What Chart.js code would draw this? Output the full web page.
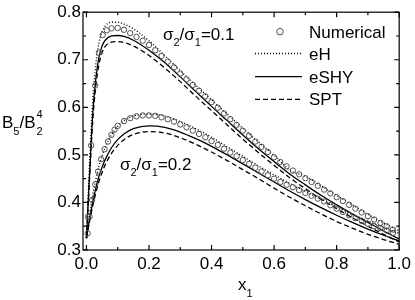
<!DOCTYPE html>
<html>
<head>
<meta charset="utf-8">
<script src="https://cdn.jsdelivr.net/npm/chart.js@4.4.1/dist/chart.umd.min.js"></script>
<style>
  html, body { margin: 0; padding: 0; background: #fff; }
</style>
</head>
<body>
<canvas id="chart" width="415" height="300"></canvas>
<script>
// tick values
const xMajor = [0.0, 0.2, 0.4, 0.6, 0.8, 1.0];
const xMinor = [0.1, 0.3, 0.5, 0.7, 0.9];
const yMajor = [0.3, 0.4, 0.5, 0.6, 0.7, 0.8];
const yMinor = [0.35, 0.45, 0.55, 0.65, 0.75];

// numerical (simulation) points, sigma2/sigma1 = 0.1
const num1X = [0.005, 0.015, 0.028, 0.04, 0.052, 0.065, 0.08, 0.1, 0.12, 0.14, 0.16, 0.18, 0.2,
  0.22, 0.24, 0.26, 0.28, 0.3, 0.32, 0.34, 0.36, 0.38, 0.4, 0.42, 0.44, 0.46, 0.48, 0.5,
  0.52, 0.54, 0.56, 0.58, 0.6, 0.62, 0.64, 0.66, 0.68, 0.7, 0.72, 0.74, 0.76, 0.78, 0.8,
  0.82, 0.84, 0.86, 0.88, 0.9, 0.92, 0.94, 0.96, 0.98];
const num1Y = [0.37, 0.52, 0.646, 0.715, 0.752, 0.762, 0.766, 0.767, 0.763, 0.756, 0.748, 0.740, 0.731,
  0.720, 0.708, 0.696, 0.684, 0.671, 0.659, 0.647, 0.635, 0.623, 0.611, 0.599, 0.587, 0.575, 0.563, 0.551,
  0.540, 0.528, 0.517, 0.506, 0.495, 0.485, 0.476, 0.467, 0.459, 0.451, 0.443, 0.435, 0.427, 0.419, 0.411,
  0.403, 0.395, 0.387, 0.379, 0.371, 0.364, 0.357, 0.350, 0.343];

// numerical points, sigma2/sigma1 = 0.2
const num2X = [0.004, 0.01, 0.018, 0.028, 0.037, 0.047, 0.058, 0.069, 0.08, 0.09, 0.1, 0.12, 0.14,
  0.16, 0.18, 0.2, 0.22, 0.24, 0.26, 0.28, 0.3, 0.32, 0.34, 0.36, 0.38, 0.4, 0.42, 0.44, 0.46,
  0.48, 0.5, 0.52, 0.54, 0.56, 0.58, 0.6, 0.62, 0.64, 0.66, 0.68, 0.7, 0.72, 0.74, 0.76, 0.78,
  0.8, 0.82, 0.84, 0.86, 0.88, 0.9, 0.92, 0.94, 0.96, 0.98];
const num2Y = [0.335, 0.37, 0.405, 0.438, 0.465, 0.491, 0.512, 0.528, 0.542, 0.553, 0.561, 0.571, 0.577,
  0.581, 0.583, 0.583, 0.582, 0.579, 0.575, 0.570, 0.564, 0.558, 0.551, 0.544, 0.537, 0.529, 0.521, 0.513, 0.505,
  0.497, 0.489, 0.481, 0.473, 0.465, 0.457, 0.450, 0.443, 0.437, 0.432, 0.426, 0.420, 0.414, 0.408, 0.402, 0.394,
  0.387, 0.380, 0.373, 0.367, 0.361, 0.355, 0.350, 0.346, 0.341, 0.336];

// theory curves share one x grid
const lineX = [0, 0.01, 0.02, 0.03, 0.04, 0.05, 0.06, 0.08, 0.1, 0.12, 0.15, 0.2, 0.25, 0.3,
  0.35, 0.4, 0.45, 0.5, 0.55, 0.6, 0.65, 0.7, 0.75, 0.8, 0.85, 0.9, 0.95, 1.0];

const eH1 = [0.325, 0.48, 0.61, 0.69, 0.735, 0.759, 0.771, 0.779, 0.779, 0.775, 0.765, 0.740, 0.709, 0.677,
  0.646, 0.616, 0.586, 0.556, 0.527, 0.499, 0.468, 0.455, 0.435, 0.415, 0.395, 0.375, 0.357, 0.340];
const eSHY1 = [0.325, 0.46, 0.585, 0.66, 0.705, 0.729, 0.741, 0.750, 0.751, 0.749, 0.741, 0.720, 0.694, 0.664,
  0.633, 0.602, 0.572, 0.542, 0.513, 0.486, 0.460, 0.437, 0.415, 0.395, 0.376, 0.358, 0.340, 0.323];
const spt1 = [0.325, 0.45, 0.57, 0.645, 0.69, 0.715, 0.728, 0.737, 0.738, 0.736, 0.729, 0.709, 0.683, 0.654,
  0.623, 0.593, 0.563, 0.533, 0.505, 0.478, 0.452, 0.429, 0.407, 0.387, 0.368, 0.350, 0.333, 0.317];

const eH2 = [0.325, 0.375, 0.415, 0.448, 0.476, 0.498, 0.516, 0.542, 0.560, 0.572, 0.582, 0.586, 0.582, 0.570,
  0.555, 0.537, 0.517, 0.497, 0.477, 0.458, 0.440, 0.423, 0.407, 0.391, 0.375, 0.361, 0.347, 0.335];
const eSHY2 = [0.325, 0.365, 0.40, 0.43, 0.455, 0.474, 0.49, 0.515, 0.532, 0.544, 0.555, 0.561, 0.558, 0.548,
  0.534, 0.518, 0.500, 0.481, 0.462, 0.443, 0.424, 0.406, 0.389, 0.373, 0.358, 0.344, 0.331, 0.319];
const spt2 = [0.325, 0.36, 0.392, 0.42, 0.444, 0.463, 0.479, 0.503, 0.52, 0.532, 0.543, 0.549, 0.546, 0.536,
  0.522, 0.506, 0.488, 0.469, 0.450, 0.430, 0.411, 0.393, 0.376, 0.360, 0.346, 0.333, 0.322, 0.312];

const legendNames = ['Numerical', 'eH', 'eSHY', 'SPT'];

const FONT = "'Liberation Sans', Arial, Helvetica, sans-serif";
Chart.defaults.font.family = FONT;
Chart.defaults.font.size = 17;
Chart.defaults.color = '#000';

const pts = (xs, ys) => xs.map((x, i) => ({x: x, y: ys[i]}));

const styles = {
  num: {showLine: false, pointStyle: 'circle', pointRadius: 2.7, pointBorderWidth: 1,
        pointBorderColor: '#505050', pointBackgroundColor: 'rgba(0,0,0,0)'},
  eH: {showLine: true, borderColor: '#000', borderWidth: 1.4, borderDash: [1, 2], pointRadius: 0, cubicInterpolationMode: 'monotone'},
  eSHY: {showLine: true, borderColor: '#000', borderWidth: 1.3, borderDash: [], pointRadius: 0, cubicInterpolationMode: 'monotone'},
  spt: {showLine: true, borderColor: '#000', borderWidth: 1.3, borderDash: [5, 3], pointRadius: 0, cubicInterpolationMode: 'monotone'}
};

function textRuns(ctx, x, y, runs) {
  // runs: [text, size, dy, advance?]
  runs.forEach(r => {
    ctx.font = r[1] + 'px ' + FONT;
    ctx.fillText(r[0], x, y + r[2]);
    if (r[3] !== false) x += ctx.measureText(r[0]).width;
  });
  return x;
}

const decor = {
  id: 'decor',
  afterDatasetsDraw(chart) {
    const {ctx, chartArea: a, scales: {x, y}} = chart;
    ctx.save();
    ctx.strokeStyle = '#000';
    ctx.lineWidth = 1.2;
    ctx.strokeRect(a.left, a.top, a.right - a.left, a.bottom - a.top);

    // inward ticks on all four sides
    ctx.beginPath();
    const xt = (v, len) => {
      const px = x.getPixelForValue(v);
      ctx.moveTo(px, a.bottom); ctx.lineTo(px, a.bottom - len);
      ctx.moveTo(px, a.top); ctx.lineTo(px, a.top + len);
    };
    const yt = (v, len) => {
      const py = y.getPixelForValue(v);
      ctx.moveTo(a.left, py); ctx.lineTo(a.left + len, py);
      ctx.moveTo(a.right, py); ctx.lineTo(a.right - len, py);
    };
    xMajor.forEach(v => xt(v, 5));
    xMinor.forEach(v => xt(v, 3));
    yMajor.forEach(v => yt(v, 5));
    yMinor.forEach(v => yt(v, 3));
    ctx.stroke();

    // legend
    const ds = chart.data.datasets;
    const rows = [31.7, 53.5, 76.7, 99.3];
    const lx0 = 255, lx1 = 302, tx = 309;
    ctx.fillStyle = '#000';
    ctx.textBaseline = 'alphabetic';
    ctx.textAlign = 'left';
    rows.forEach((ry, i) => {
      const d = ds[i * 2];
      if (i === 0) {
        ctx.beginPath();
        ctx.lineWidth = d.pointBorderWidth;
        ctx.strokeStyle = d.pointBorderColor;
        ctx.setLineDash([]);
        ctx.arc(280, ry, 3.3, 0, Math.PI * 2);
        ctx.stroke();
      } else {
        ctx.beginPath();
        ctx.lineWidth = d.borderWidth;
        ctx.strokeStyle = d.borderColor;
        ctx.setLineDash(d.borderDash);
        ctx.moveTo(lx0, ry);
        ctx.lineTo(lx1, ry);
        ctx.stroke();
      }
      ctx.setLineDash([]);
      ctx.font = '17px ' + FONT;
      ctx.fillText(legendNames[i], tx, ry + 6);
    });

    // annotations
    const ratio = (x0, base, val) => textRuns(ctx, x0, base, [
      ['\u03c3', 17, 0], ['2', 11, 6], ['/', 17, 0], ['\u03c3', 17, 0], ['1', 11, 6], ['=' + val, 17, 0]
    ]);
    ratio(163, 40, '0.1');
    ratio(120, 170, '0.2');

    // axis titles
    let bx = textRuns(ctx, 2, 128, [['B', 17, 0], ['5', 11, 7], ['/', 17, 0], ['B', 17, 0]]);
    textRuns(ctx, bx + 1, 128, [['4', 11, -10, false], ['2', 11, 7]]);
    textRuns(ctx, 238, 290, [['x', 17, 0], ['1', 11, 7]]);
    ctx.restore();
  }
};

new Chart(document.getElementById('chart'), {
  type: 'scatter',
  data: {
    datasets: [
      Object.assign({label: 'Numerical', data: pts(num1X, num1Y)}, styles.num),
      Object.assign({label: 'Numerical', data: pts(num2X, num2Y)}, styles.num),
      Object.assign({label: 'eH', data: pts(lineX, eH1)}, styles.eH),
      Object.assign({label: 'eH', data: pts(lineX, eH2)}, styles.eH),
      Object.assign({label: 'eSHY', data: pts(lineX, eSHY1)}, styles.eSHY),
      Object.assign({label: 'eSHY', data: pts(lineX, eSHY2)}, styles.eSHY),
      Object.assign({label: 'SPT', data: pts(lineX, spt1)}, styles.spt),
      Object.assign({label: 'SPT', data: pts(lineX, spt2)}, styles.spt)
    ]
  },
  options: {
    responsive: false,
    animation: false,
    devicePixelRatio: 1,
    layout: {padding: {left: 0, right: 12, top: 8, bottom: 0}},
    plugins: {legend: {display: false}, tooltip: {enabled: false}},
    scales: {
      x: {
        type: 'linear', min: -0.011, max: 1.0,
        afterFit: s => { s.height = 50; },
        afterBuildTicks: s => { s.ticks = xMajor.map(v => ({value: v})); },
        ticks: {padding: 4, maxRotation: 0, autoSkip: false, callback: v => v.toFixed(1)},
        grid: {display: false, drawTicks: false},
        border: {display: false}
      },
      y: {
        type: 'linear', min: 0.3, max: 0.8,
        afterFit: s => { s.width = 83; },
        afterBuildTicks: s => { s.ticks = yMajor.map(v => ({value: v})); },
        ticks: {padding: 2, callback: v => v.toFixed(1)},
        grid: {display: false, drawTicks: false},
        border: {display: false}
      }
    }
  },
  plugins: [decor]
});
</script>
</body>
</html>
